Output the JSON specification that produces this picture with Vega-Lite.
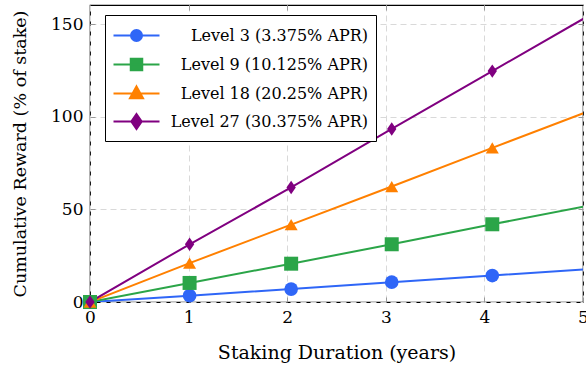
{
  "$schema": "https://vega.github.io/schema/vega-lite/v6.json",
  "autosize": "none",
  "width": 493,
  "height": 297,
  "padding": {"left": 90, "top": 5, "right": 3, "bottom": 72},
  "background": "white",
  "config": {
    "font": "DejaVu Serif",
    "view": {"stroke": "black", "strokeWidth": 1.2},
    "axis": {
      "labelFont": "DejaVu Serif",
      "titleFont": "DejaVu Serif",
      "labelFontSize": 17,
      "titleFontSize": 19,
      "labelColor": "black",
      "titleColor": "black",
      "titleFontWeight": "normal",
      "domain": false,
      "tickColor": "#999999",
      "tickSize": -5,
      "gridColor": "#d9d9d9",
      "gridDash": [6, 4],
      "gridWidth": 1
    }
  },
  "resolve": {"axis": {"x": "independent", "y": "independent"}},
  "data": {
    "values": [
      {"series": "Level 3 (3.375% APR)", "x": 0, "y": 0},
      {"series": "Level 3 (3.375% APR)", "x": 1.01, "y": 3.4},
      {"series": "Level 3 (3.375% APR)", "x": 2.04, "y": 7.0},
      {"series": "Level 3 (3.375% APR)", "x": 3.06, "y": 10.7},
      {"series": "Level 3 (3.375% APR)", "x": 4.08, "y": 14.3},
      {"series": "Level 3 (3.375% APR)", "x": 5.1, "y": 17.9},
      {"series": "Level 9 (10.125% APR)", "x": 0, "y": 0},
      {"series": "Level 9 (10.125% APR)", "x": 1.01, "y": 10.3},
      {"series": "Level 9 (10.125% APR)", "x": 2.04, "y": 20.7},
      {"series": "Level 9 (10.125% APR)", "x": 3.06, "y": 31.2},
      {"series": "Level 9 (10.125% APR)", "x": 4.08, "y": 42.0},
      {"series": "Level 9 (10.125% APR)", "x": 5.1, "y": 52.5},
      {"series": "Level 18 (20.25% APR)", "x": 0, "y": 0},
      {"series": "Level 18 (20.25% APR)", "x": 1.01, "y": 21.0},
      {"series": "Level 18 (20.25% APR)", "x": 2.04, "y": 41.8},
      {"series": "Level 18 (20.25% APR)", "x": 3.06, "y": 62.4},
      {"series": "Level 18 (20.25% APR)", "x": 4.08, "y": 83.3},
      {"series": "Level 18 (20.25% APR)", "x": 5.1, "y": 104.0},
      {"series": "Level 27 (30.375% APR)", "x": 0, "y": 0},
      {"series": "Level 27 (30.375% APR)", "x": 1.01, "y": 31.2},
      {"series": "Level 27 (30.375% APR)", "x": 2.04, "y": 61.9},
      {"series": "Level 27 (30.375% APR)", "x": 3.06, "y": 93.5},
      {"series": "Level 27 (30.375% APR)", "x": 4.08, "y": 124.8},
      {"series": "Level 27 (30.375% APR)", "x": 5.1, "y": 156.0}
    ]
  },
  "encoding": {
    "color": {
      "field": "series", "type": "nominal",
      "scale": {
        "domain": ["Level 3 (3.375% APR)", "Level 9 (10.125% APR)", "Level 18 (20.25% APR)", "Level 27 (30.375% APR)"],
        "range": ["#2f66f7", "#2ba548", "#ff8000", "#800080"]
      },
      "legend": {
        "orient": "none",
        "legendX": 15,
        "legendY": 10,
        "title": null,
        "padding": 8,
        "strokeColor": "black",
        "fillColor": "white",
        "labelFont": "DejaVu Serif",
        "labelFontSize": 16,
        "labelColor": "black",
        "labelAlign": "right",
        "labelLimit": 0,
        "labelOffset": 219,
        "symbolSize": 529,
        "symbolOffset": 11,
        "symbolStrokeWidth": 2,
        "rowPadding": 6,
        "symbolType": {"expr": "datum.value == 'Level 3 (3.375% APR)' ? 'M-2,0H2M-0.48,0A0.48,0.48,0,1,1,0.48,0A0.48,0.48,0,1,1,-0.48,0Z' : datum.value == 'Level 9 (10.125% APR)' ? 'M-2,0H2M-0.5,-0.5H0.5V0.5H-0.5Z' : datum.value == 'Level 18 (20.25% APR)' ? 'M-2,0H2M0,-0.62L0.57,0.42L-0.57,0.42Z' : 'M-2,0H2M0,-0.65L0.45,0L0,0.65L-0.45,0Z'"},
        "symbolStrokeColor": {"expr": "scale('color', datum.value)"},
        "symbolFillColor": {"expr": "scale('color', datum.value)"},
        "symbolOpacity": 1
      }
    }
  },
  "layer": [
    {
      "mark": {"type": "line", "strokeWidth": 2, "clip": true},
      "encoding": {
        "x": {
          "field": "x", "type": "quantitative",
          "scale": {"domain": [0, 5], "nice": false, "zero": false},
          "axis": {"title": "Staking Duration (years)", "values": [0, 1, 2, 3, 4, 5], "labelPadding": 12, "titlePadding": 18, "labelFlush": false}
        },
        "y": {
          "field": "y", "type": "quantitative",
          "scale": {"domain": [0, 160.5], "nice": false},
          "axis": {"title": "Cumulative Reward (% of stake)", "titleFontSize": 17.5, "values": [0, 50, 100, 150], "labelPadding": 12, "titlePadding": 21, "labelFlush": false}
        }
      }
    },
    {
      "transform": [{"filter": "datum.x <= 5"}],
      "mark": {"type": "point", "filled": true, "opacity": 1, "strokeWidth": 0},
      "encoding": {
        "x": {
          "field": "x", "type": "quantitative",
          "axis": {"orient": "top", "title": null, "labels": false, "grid": false, "values": [1, 2, 3, 4]}
        },
        "y": {
          "field": "y", "type": "quantitative",
          "axis": {"orient": "right", "title": null, "labels": false, "grid": false, "values": [50, 100, 150]}
        },
        "shape": {
          "field": "series", "type": "nominal",
          "scale": {
            "range": ["triangle-up", "M0,-1L0.7,0L0,1L-0.7,0Z", "circle", "square"]
          },
          "legend": null
        },
        "size": {
          "field": "series", "type": "nominal",
          "scale": {
            "range": [169, 196, 121, 144]
          },
          "legend": null
        }
      }
    }
  ]
}
